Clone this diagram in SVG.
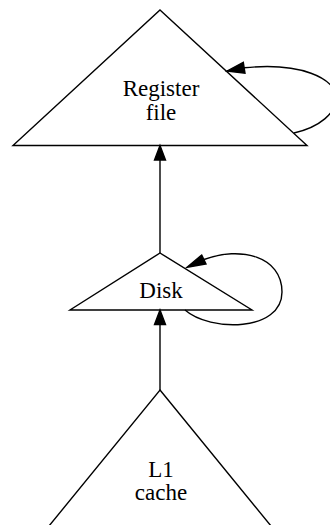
<svg xmlns="http://www.w3.org/2000/svg" width="330" height="525" viewBox="0 0 330 525">
  <style>
    .shape { fill: none; stroke: #000; stroke-width: 1.4; }
    .edge { fill: none; stroke: #000; stroke-width: 1.4; }
    .head { fill: #000; stroke: #000; stroke-width: 1.4; }
    .label { font-size: 23px; fill: #000; text-anchor: middle; }
  </style>
  <rect width="330" height="525" fill="#fff"/>

  <g id="register_file">
    <polygon class="shape" points="160,10 307,145.5 13,145.5"/>
    <text class="label" font-family="'Liberation Serif', 'DejaVu Serif', serif" x="161" y="96">Register</text>
    <text class="label" font-family="'Liberation Serif', 'DejaVu Serif', serif" x="161" y="120">file</text>
  </g>

  <g id="disk">
    <polygon class="shape" points="160,253 252,310 70,310"/>
    <text class="label" font-family="'Liberation Serif', 'DejaVu Serif', serif" x="161" y="298">Disk</text>
  </g>

  <g id="l1_cache">
    <polygon class="shape" points="160,390 280,537 40,537"/>
    <text class="label" font-family="'Liberation Serif', 'DejaVu Serif', serif" x="161" y="477">L1</text>
    <text class="label" font-family="'Liberation Serif', 'DejaVu Serif', serif" x="161" y="500">cache</text>
  </g>

  <g id="connectors">
    <!-- Disk -> Register file -->
    <line class="edge" x1="160" y1="253" x2="160" y2="159"/>
    <polygon class="head" points="160,145.5 165.5,160 154.5,160"/>
    <!-- L1 cache -> Disk -->
    <line class="edge" x1="160" y1="390" x2="160" y2="324"/>
    <polygon class="head" points="160,310 165.5,324.5 154.5,324.5"/>
    <!-- Register file self-loop -->
    <path class="edge" d="M294,133 C320,127 336,113 336,98 C336,78 300,62 244,67.8"/>
    <polygon class="head" points="227,71 243.3,62.3 245,73.3"/>
    <!-- Disk self-loop -->
    <path class="edge" d="M185,310 C210,332 282,332 282,292 C282,256 240,246 204,259.5"/>
    <polygon class="head" points="187,267.3 201.7,255 206,264"/>
  </g>
</svg>
